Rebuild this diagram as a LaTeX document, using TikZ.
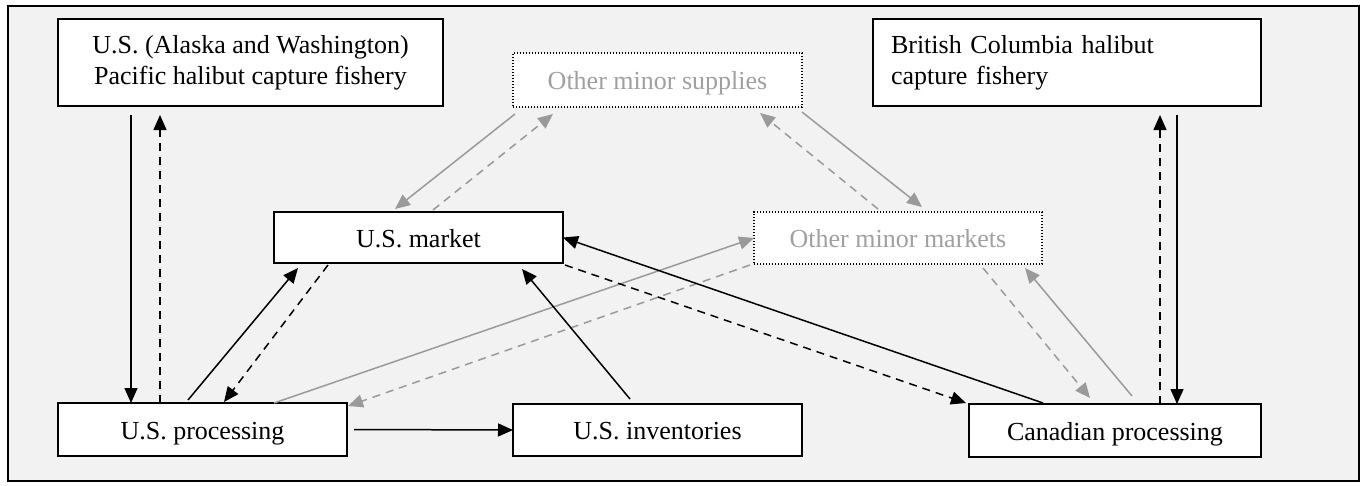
\documentclass[tikz,border=0pt]{standalone}
\usepackage{fontspec}
\setmainfont{Liberation Serif}
\usetikzlibrary{arrows.meta,calc}
\definecolor{bgray}{HTML}{F2F2F2}
\definecolor{lgray}{HTML}{9A9A9A}
\definecolor{tgray}{HTML}{A0A0A0}
\begin{document}
\begin{tikzpicture}[x=1pt,y=-1pt,
  box/.style={draw=black,line width=1.6pt,fill=white,inner sep=0pt,outer sep=0pt,
    minimum width=289pt,minimum height=52pt,font=\fontsize{26}{31}\selectfont},
  onebox/.style={box,text height=19pt,text depth=0pt},
  dotbox/.style={onebox,draw=black,line width=1.2pt,dash pattern=on 1.2pt off 1.8pt,text=tgray},
  blk/.style={draw=black,line width=1.5pt,-{Triangle[length=15pt,width=13pt]}},
  gry/.style={draw=lgray,line width=1.5pt,-{Triangle[length=15pt,width=13pt]}},
  dsh/.style={dash pattern=on 8pt off 6pt}]
\useasboundingbox (0,0) rectangle (1366,485);
\fill[white] (0,0) rectangle (1366,485);
\draw[line width=2.2pt,fill=bgray] (8,6) rectangle (1359,481);

\node[box,minimum width=385pt,minimum height=87pt,align=center] (usfish) at (250.5,62.5)
  {U.S. (Alaska and Washington)\\Pacific halibut capture fishery};
\node[box,minimum height=87pt,text width=352pt,inner xsep=18pt,align=left] (bcfish) at (1067,62.5)
  {British Columbia halibut\\capture fishery};
\node[dotbox,minimum height=54pt] (supp) at (657.5,80) {Other minor supplies};
\node[onebox,minimum height=51pt] (mkt) at (418.5,237.5) {U.S. market};
\node[dotbox,minimum width=288pt] (omk) at (898,238) {Other minor markets};
\node[onebox,minimum height=53pt] (usproc) at (202.5,429.5) {U.S. processing};
\node[onebox] (inv) at (657.5,430) {U.S. inventories};
\node[onebox,minimum width=292pt,minimum height=53pt] (canp) at (1115,430.5) {Canadian processing};

% gray connectors
\draw[gry] ($(supp.south west)+(2,7)$) -- ($(mkt.north west)+(121,-3)$);
\draw[gry,dsh] ($(mkt.north west)+(159,-2)$) -- ($(supp.south west)+(40,7)$);
\draw[gry] ($(supp.south east)+(0,5)$) -- ($(omk.north west)+(168,-5)$);
\draw[gry,dsh] ($(omk.north west)+(124,-3)$) -- ($(supp.south east)+(-42,6)$);
\draw[gry] ($(usproc.north west)+(216,0)$) -- (omk.west);
\draw[gry,dsh] ($(omk.south west)+(-4,1)$) -- ($(usproc.north east)+(1,3)$);
\draw[gry,dsh] ($(omk.south west)+(229,4)$) -- ($(canp.north west)+(121,-6)$);
\draw[gry] ($(canp.north west)+(163,-8)$) -- ($(omk.south west)+(271,4)$);

% black connectors
\draw[blk] ($(usfish.south west)+(73,9)$) -- ($(usproc.north west)+(73,0)$);
\draw[blk,dsh] ($(usproc.north west)+(102,0)$) -- ($(usfish.south west)+(102,9)$);
\draw[blk] ($(usproc.north west)+(130,-3)$) -- ($(mkt.south west)+(24,5)$);
\draw[blk,dsh] ($(mkt.south west)+(54,2)$) -- ($(usproc.north west)+(166,-1)$);
\draw[blk] ($(usproc.east)+(7,0)$) -- (inv.west);
\draw[blk] ($(inv.north west)+(117,-5)$) -- ($(mkt.south west)+(248,6)$);
\draw[blk,dsh] ($(mkt.south east)+(2,2)$) -- ($(canp.north west)+(-3,-1)$);
\draw[blk] ($(canp.north west)+(74,-1)$) -- (mkt.east);
\draw[blk] ($(bcfish.south west)+(304,9)$) -- ($(canp.north west)+(208,0)$);
\draw[blk,dsh] ($(canp.north west)+(191,0)$) -- ($(bcfish.south west)+(287,9)$);
\end{tikzpicture}
\end{document}
